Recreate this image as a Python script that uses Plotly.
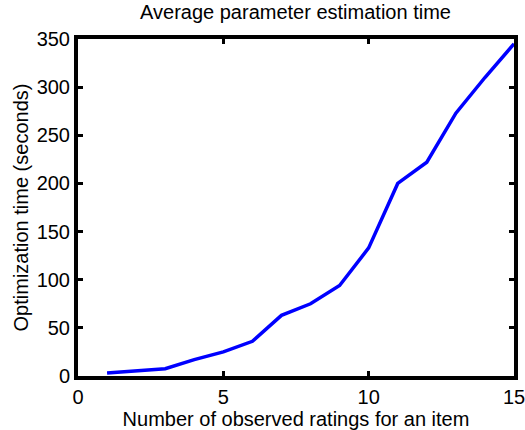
import plotly.graph_objects as go

x_counts = list(range(1, 16))
opt_time = [3, 5, 7.5, 17, 25, 36, 63, 75, 94, 133, 200, 222, 273, 310, 345]

x_ticks = [0, 5, 10, 15]
y_ticks = [0, 50, 100, 150, 200, 250, 300, 350]

FONT = "Liberation Sans, Arial"

fig = go.Figure()
fig.add_trace(go.Scatter(x=x_counts, y=opt_time, mode="lines",
                         line=dict(color="#0000ff", width=3.5), showlegend=False))

axis_common = dict(showgrid=False, zeroline=False, showline=True, linecolor="black",
                   linewidth=4, mirror="ticks", ticks="inside", ticklen=5,
                   tickwidth=2.5, tickcolor="black", ticklabeloverflow="allow",
                   automargin=False,
                   tickfont=dict(family=FONT, size=20, color="black"))

fig.update_layout(
    width=525, height=430,
    margin=dict(l=78, r=11, t=39, b=54),
    paper_bgcolor="white", plot_bgcolor="white",
    title=dict(text="Average parameter estimation time", x=295.5 / 525, xanchor="center",
               y=1 - 12 / 430, yanchor="middle",
               font=dict(family=FONT, size=20, color="black")),
    xaxis=dict(range=[0, 15], tickvals=x_ticks,
               title=dict(text="Number of observed ratings for an item", standoff=0,
                          font=dict(family=FONT, size=20, color="black")),
               **axis_common),
    yaxis=dict(range=[0, 350], tickvals=y_ticks,
               title=dict(text="Optimization time (seconds)", standoff=4,
                          font=dict(family=FONT, size=20, color="black")),
               **axis_common),
)

fig.write_html("out.html", config={"displayModeBar": False},
               post_script="document.body.style.margin='0';")
